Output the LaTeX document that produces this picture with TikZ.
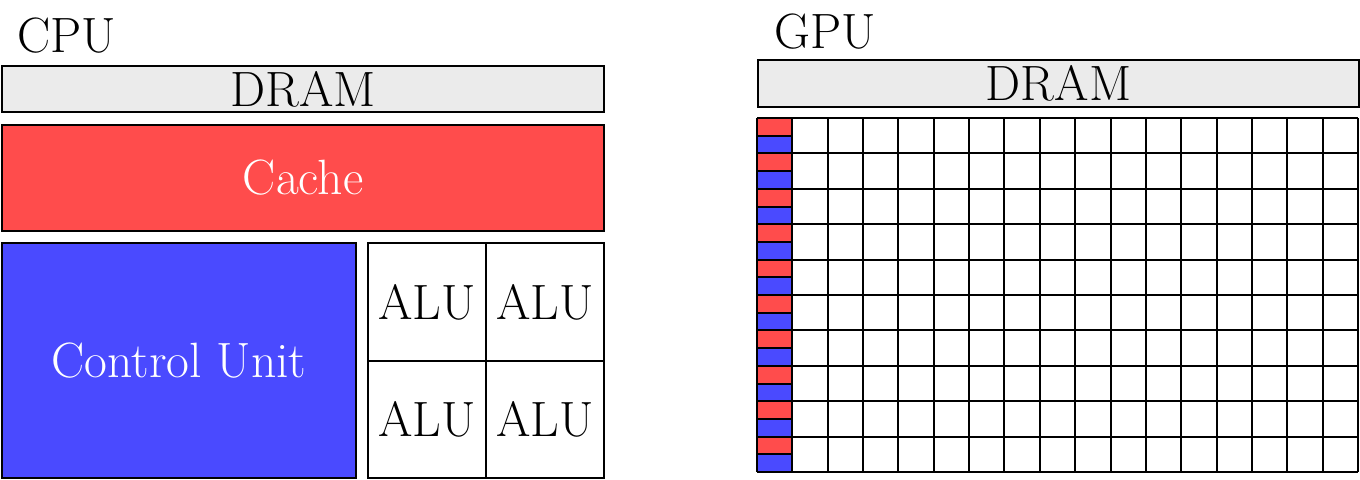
\documentclass[tikz,border=0pt]{standalone}
\definecolor{cred}{RGB}{255,76,76}
\definecolor{cblue}{RGB}{74,74,255}
\definecolor{cgray}{RGB}{235,235,235}
\tikzset{
  lbl/.style={font=\fontsize{24.8}{29}\selectfont, inner sep=0pt},
  unitbox/.style={draw=black, line width=1pt, anchor=north west, inner sep=0pt, font=\fontsize{24.8}{29}\selectfont},
  drambox/.style={unitbox, fill=cgray},
  cachebox/.style={unitbox, fill=cred, text=white},
  ctrlbox/.style={unitbox, fill=cblue, text=white},
  alubox/.style={unitbox, fill=white},
}
\begin{document}
\begin{tikzpicture}[x=0.5pt,y=-0.5pt]
\useasboundingbox (0,0) rectangle (1360,479);
% CPU
\node[lbl, anchor=base west] (cpulabel) at (17,52) {CPU};
\node[drambox, minimum width=301pt, minimum height=23pt] (cdram) at (1,65) {DRAM};
\node[cachebox, minimum width=301pt, minimum height=53pt] (cache) at (1,124) {Cache};
\node[ctrlbox, minimum width=177pt, minimum height=117.5pt] (ctrl) at (1,242) {Control Unit};
\node[alubox, minimum width=59pt, minimum height=59pt] (alu1) at (367,242) {ALU};
\node[alubox, minimum width=59pt, minimum height=59pt] (alu2) at (485,242) {ALU};
\node[alubox, minimum width=59pt, minimum height=58.5pt] (alu3) at (367,360) {ALU};
\node[alubox, minimum width=59pt, minimum height=58.5pt] (alu4) at (485,360) {ALU};
% GPU
\node[lbl, anchor=base west] (gpulabel) at (774,48) {GPU};
\node[drambox, minimum width=300.5pt, minimum height=23.5pt] (gdram) at (757,59) {DRAM};
% GPU grid
\def\gx{757}\def\gy{118}\def\cw{35.353}\def\ch{35.4}
\foreach \r in {0,...,9}{
  \fill[cred] (\gx,{\gy+\r*\ch}) rectangle ({\gx+\cw},{\gy+(\r+0.5)*\ch});
  \fill[cblue] (\gx,{\gy+(\r+0.5)*\ch}) rectangle ({\gx+\cw},{\gy+(\r+1)*\ch});
  \draw[line width=1pt] (\gx,{\gy+(\r+0.5)*\ch}) -- ({\gx+\cw},{\gy+(\r+0.5)*\ch});
}
\foreach \c in {0,...,17}{
  \draw[line width=1pt] ({\gx+\c*\cw},\gy) -- ({\gx+\c*\cw},{\gy+10*\ch});
}
\foreach \r in {0,...,10}{
  \draw[line width=1pt] (\gx,{\gy+\r*\ch}) -- ({\gx+17*\cw},{\gy+\r*\ch});
}
\end{tikzpicture}
\end{document}
